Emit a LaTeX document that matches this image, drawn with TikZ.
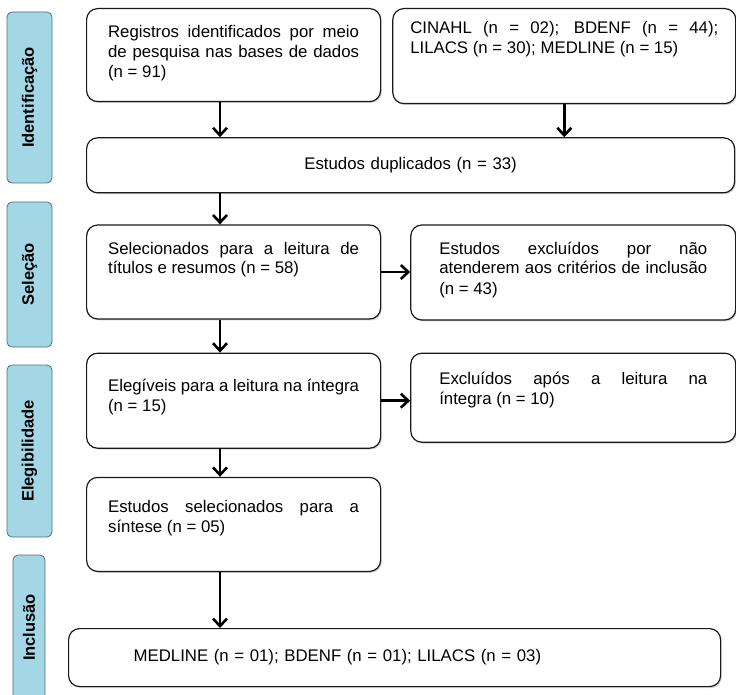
\documentclass[tikz,border=0pt]{standalone}
\usepackage{fontspec}
\setmainfont{Liberation Sans}
\usetikzlibrary{positioning,arrows.meta,shadows}
\definecolor{azulaba}{HTML}{A3D7E5}
\definecolor{bordaaba}{HTML}{52707A}
\hyphenpenalty=10000
\hbadness=10000
\hfuzz=3pt
\tikzset{caixa/.style = {draw=black!90, line width=1.2pt, rounded corners=11pt, fill=white, anchor=north west, inner ysep=0pt, align=justify, font=\fontsize{16.8}{20}\selectfont, drop shadow={shadow xshift=1.2pt, shadow yshift=-1.4pt, opacity=.35}}}
\tikzset{aba/.style = {draw=bordaaba, line width=.8pt, fill=azulaba, rounded corners=5pt, rotate=90, minimum height=45pt, font=\bfseries\fontsize{16.5}{18}\selectfont}}
\tikzset{seta/.style = {-{Straight Barb[length=7.5pt,width=14pt]}, line width=2.6pt}}

\begin{document}
\begin{tikzpicture}[x=1pt, y=-1pt]
		\path[use as bounding box] (0,0) rectangle (736,695);
		\node[aba, minimum width=171pt] (ident) at (29.5,97.5) {Identificação};
		\node[aba, minimum width=145pt] (selec) at (29.5,274.5) {Seleção};
		\node[aba, minimum width=172pt] (eleg) at (29.5,451) {Elegibilidade};
		\node[aba, minimum width=145pt, minimum height=32pt] (incl) at (29,627.5) {Inclusão};
		\node[caixa, text width=251pt, inner xsep=21.5pt, text height=29pt, text depth=64pt] (reg) at (86,8) {Registros identificados por meio\linebreak de pesquisa nas bases de dados\linebreak (n = 91)};
		\node[caixa, right=11pt of reg.north east, anchor=north west, text width=308pt, inner xsep=17.5pt, text height=25pt, text depth=70pt] (cin) {CINAHL (n = 02); BDENF (n = 44);\linebreak LILACS (n = 30); MEDLINE (n = 15)};
		\node[caixa, below=35pt of reg.south west, anchor=north west, text width=608pt, inner xsep=20pt, minimum height=55pt, align=center] (dup) {Estudos duplicados (n = 33)};
		\node[caixa, below=31pt of dup.south west, anchor=north west, text width=251pt, inner xsep=21.5pt, text height=29pt, text depth=65pt] (sel) {Selecionados para a leitura de\linebreak títulos e resumos (n = 58)};
		\node[caixa, right=29pt of sel.north east, anchor=north west, text width=268pt, inner xsep=28.5pt, text height=29pt, text depth=66pt] (exc1) {Estudos excluídos por não\linebreak atenderem aos critérios de inclusão\linebreak (n = 43)};
		\node[caixa, below=33pt of sel.south west, anchor=north west, text width=251pt, inner xsep=21.5pt, text height=38pt, text depth=57pt] (ele) {Elegíveis para a leitura na íntegra\linebreak (n = 15)};
		\node[caixa, right=29pt of ele.north east, anchor=north west, text width=268pt, inner xsep=28.5pt, text height=31pt, text depth=58pt] (exc2) {\leftskip=18pt Excluídos após a leitura na\linebreak íntegra (n = 10)};
		\node[caixa, below=28pt of ele.south west, anchor=north west, text width=251pt, inner xsep=21.5pt, text height=35pt, text depth=59pt] (sint) {Estudos selecionados para a\linebreak síntese (n = 05)};
		\node[caixa, below=56pt of sint.south west, anchor=north west, xshift=-18pt, text width=522pt, inner xsep=65pt, minimum height=58pt, align=left] (fin) {MEDLINE (n = 01); BDENF (n = 01); LILACS (n = 03)};
		\coordinate (eixo) at (220,0);
		\path[seta] (reg.south -| eixo) edge (dup.north -| eixo);
		\path[seta] (cin.south) edge (dup.north -| cin.south);
		\path[seta] (dup.south -| eixo) edge (sel.north -| eixo);
		\path[seta] (sel.east) edge (exc1.west |- sel.east);
		\path[seta] (sel.south -| eixo) edge (ele.north -| eixo);
		\path[seta] (ele.east) edge (exc2.west |- ele.east);
		\path[seta] (ele.south -| eixo) edge (sint.north -| eixo);
		\path[seta] (sint.south -| eixo) edge (fin.north -| eixo);
	\end{tikzpicture}
\end{document}
